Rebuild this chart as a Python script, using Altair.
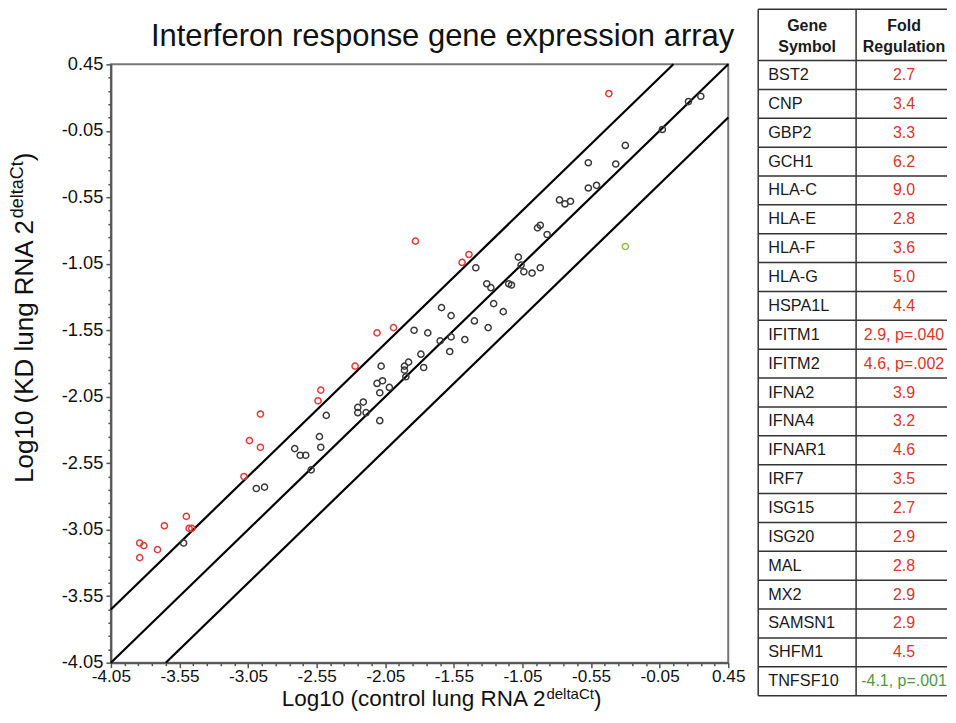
import altair as alt
import pandas as pd

# ---------------- text ----------------
title_text = "Interferon response gene expression array"
x_title_main = "Log10 (control lung RNA 2"
y_title_main = "Log10 (KD lung RNA 2"
sup_text = "deltaCt"
close_text = ")"

# ---------------- scatter values (log10 2^deltaCt) ----------------
# up-regulated genes (red)
ctrl_up = [-3.84, -3.81, -3.84, -3.71, -3.66, -3.50, -3.48, -3.46, -3.08, -3.04, -2.96,
           -2.96, -2.54, -2.52, -2.27, -2.11, -1.99, -1.83, -1.49, -1.44, -0.42]
kd_up = [-3.15, -3.17, -3.26, -3.20, -3.02, -2.95, -3.04, -3.04, -2.65, -2.38, -2.18,
         -2.43, -2.08, -2.00, -1.82, -1.57, -1.53, -0.88, -1.04, -0.98, 0.23]
# unchanged genes (black)
ctrl_ns = [-3.52, -2.99, -2.93, -2.71, -2.67, -2.63, -2.59, -2.53, -2.52, -2.48, -2.25,
           -2.21, -2.25, -2.19, -2.09, -2.11, -2.07, -2.09, -2.02, -2.08, -1.91, -1.90,
           -1.91, -1.88, -1.77, -1.79, -1.84, -1.74, -1.65, -1.57, -1.47, -1.58, -1.64,
           -1.57, -1.40, -1.30, -1.26, -1.19, -1.31, -1.28, -1.15, -1.13, -1.39, -1.08,
           -1.06, -1.04, -0.98, -0.92, -0.94, -0.92, -0.87, -0.78, -0.74, -0.70, -0.57,
           -0.51, -0.57, -0.37, -0.30, -0.03, 0.16, 0.25]
kd_ns = [-3.15, -2.74, -2.73, -2.44, -2.49, -2.49, -2.60, -2.35, -2.43, -2.19, -2.13,
         -2.09, -2.17, -2.17, -2.23, -1.95, -1.93, -2.02, -1.98, -1.82, -1.85, -1.90,
         -1.82, -1.79, -1.83, -1.73, -1.55, -1.57, -1.63, -1.60, -1.62, -1.71, -1.38,
         -1.44, -1.48, -1.53, -1.35, -1.41, -1.20, -1.23, -1.20, -1.21, -1.08, -1.00,
         -1.06, -1.11, -1.12, -1.08, -0.78, -0.76, -0.83, -0.57, -0.60, -0.58, -0.48,
         -0.46, -0.29, -0.30, -0.16, -0.04, 0.17, 0.21]
# down-regulated gene (green)
ctrl_down = [-0.30]
kd_down = [-0.92]

axis_lo = -4.05
axis_hi = 0.45
tick_values = [round(axis_lo + 0.1 * i, 2) for i in range(46)]
band_offsets = [0.4, 0.0, -0.4]  # identity line and +/- log10(2.5) boundaries

# ---------------- table ----------------
genes = ["BST2", "CNP", "GBP2", "GCH1", "HLA-C", "HLA-E", "HLA-F", "HLA-G", "HSPA1L",
         "IFITM1", "IFITM2", "IFNA2", "IFNA4", "IFNAR1", "IRF7", "ISG15", "ISG20", "MAL",
         "MX2", "SAMSN1", "SHFM1", "TNFSF10"]
folds = ["2.7", "3.4", "3.3", "6.2", "9.0", "2.8", "3.6", "5.0", "4.4", "2.9, p=.040",
         "4.6, p=.002", "3.9", "3.2", "4.6", "3.5", "2.7", "2.9", "2.8", "2.9", "2.9",
         "4.5", "-4.1, p=.001"]
header_col1 = ["Gene", "Symbol"]
header_col2 = ["Fold", "Regulation"]

FONT = "Liberation Sans"

# ---------------- scatter panel ----------------
pts = pd.DataFrame({
    "control": ctrl_up + ctrl_ns + ctrl_down,
    "kd": kd_up + kd_ns + kd_down,
    "group": ["up"] * len(ctrl_up) + ["ns"] * len(ctrl_ns) + ["down"] * len(ctrl_down),
})

line_rows = []
for d in band_offsets:
    if d >= 0:
        seg = [(axis_lo, axis_lo + d), (axis_hi - d, axis_hi)]
    else:
        seg = [(axis_lo - d, axis_lo), (axis_hi, axis_hi + d)]
    for k, (xv, yv) in enumerate(seg):
        line_rows.append({"control": xv, "kd": yv, "line": str(d), "order": k})
lines = pd.DataFrame(line_rows)

major = "abs((datum.value + 4.05) * 2 - round((datum.value + 4.05) * 2)) < 0.01"
label_expr = f"({major}) ? ((datum.value < 0 ? '-' : '') + format(abs(datum.value), '.2f')) : ''"
tick_size = {"condition": {"test": major, "value": 5}, "value": 3}

common_axis = dict(values=tick_values, labelExpr=label_expr, tickSize=tick_size, title=None,
                   grid=False, labelFlush=False, labelOverlap=False,
                   labelColor="#111111", labelFont=FONT, tickColor="#555555",
                   tickWidth=1.5, domainColor="#555555", domainWidth=2)

xs = alt.Scale(domain=[axis_lo, axis_hi], nice=False, zero=False)
ys = alt.Scale(domain=[axis_lo, axis_hi], nice=False, zero=False)

x_enc = alt.X("control:Q", scale=xs,
              axis=alt.Axis(labelPadding=0, labelFontSize=17.2, **common_axis))
y_enc = alt.Y("kd:Q", scale=ys,
              axis=alt.Axis(labelPadding=3, labelFontSize=18.3, **common_axis))

lines_layer = alt.Chart(lines).mark_line(color="black", strokeWidth=2.2).encode(
    x=x_enc, y=y_enc, detail="line:N", order="order:Q")

color_scale = alt.Scale(domain=["up", "ns", "down"], range=["#e03a36", "#3a3a3a", "#86c241"])
points_layer = alt.Chart(pts).mark_point(shape="circle", filled=False, size=38,
                                         strokeWidth=1.5, opacity=1).encode(
    x=x_enc, y=y_enc, color=alt.Color("group:N", scale=color_scale, legend=None))


def text_layer(txt, x, y, size, angle=0, align="left"):
    return alt.Chart(pd.DataFrame({"t": [txt]})).mark_text(
        font=FONT, fontSize=size, align=align, baseline="alphabetic", angle=angle,
        color="#111111").encode(text="t:N", x=alt.value(x), y=alt.value(y))


title_layer = text_layer(title_text, 332, -18, 31, align="center")
xt_a = text_layer(x_title_main, 435, 642.3, 22.5, align="right")
xt_b = text_layer(sup_text, 436, 635.3, 15, align="left")
xt_c = text_layer(close_text, 483.5, 642.3, 22.5, align="left")
yt_a = text_layer(y_title_main, -78, 419, 26, angle=270, align="left")
yt_b = text_layer(sup_text, -88, 154, 18, angle=270, align="left")
yt_c = text_layer(close_text, -78, 97, 26, angle=270, align="left")

left = alt.layer(lines_layer, points_layer, title_layer, xt_a, xt_b, xt_c, yt_a, yt_b, yt_c).properties(
    width=618, height=599,
    view=alt.ViewBackground(stroke="#777777", strokeWidth=2))

# ---------------- table panel ----------------
TOP = -55          # table top relative to plot top (px)
BOTTOM = 632       # table bottom relative to plot top (px)
ROW = 28.9         # body row height (px)
n = len(genes)
H = (BOTTOM - TOP) / ROW - n  # header height in row units
TW = 189
tx = alt.Scale(domain=[0, TW], range=[0, TW], nice=False, zero=False)
ty = alt.Scale(domain=[0, H + n], range=[TOP, BOTTOM], nice=False, zero=False)

hrules = pd.DataFrame({"y": [0.0] + [H + i for i in range(n + 1)], "x0": 0, "x1": TW})
vrules = pd.DataFrame({"x": [0, 98], "y0": 0.0, "y1": H + n})

hr = alt.Chart(hrules).mark_rule(color="#333333", strokeWidth=1.5).encode(
    x=alt.X("x0:Q", scale=tx, axis=None), x2="x1:Q", y=alt.Y("y:Q", scale=ty, axis=None))
vr = alt.Chart(vrules).mark_rule(color="#333333", strokeWidth=1.5).encode(
    x=alt.X("x:Q", scale=tx, axis=None), y=alt.Y("y0:Q", scale=ty, axis=None), y2="y1:Q")

body = pd.DataFrame({
    "gene": genes,
    "fold": folds,
    "row": [H + i + 0.5 for i in range(n)],
    "dir": ["down" if f.startswith("-") else "up" for f in folds],
})
gene_txt = alt.Chart(body).mark_text(font=FONT, fontSize=16.3, align="left", baseline="middle",
                                     color="#1a1a1a").encode(
    x=alt.value(10), y=alt.Y("row:Q", scale=ty, axis=None), text="gene:N")
fold_txt = alt.Chart(body).mark_text(font=FONT, fontSize=16, align="center",
                                     baseline="middle").encode(
    x=alt.value(146), y=alt.Y("row:Q", scale=ty, axis=None), text="fold:N",
    color=alt.Color("dir:N", scale=alt.Scale(domain=["up", "down"], range=["#d8352c", "#4f9a3e"]),
                    legend=None))

# header lines placed at the reference's text centres
head = pd.DataFrame({"c1": header_col1, "c2": header_col2,
                     "row": [(-38 - TOP) / ROW, (-17.5 - TOP) / ROW]})
h1 = alt.Chart(head).mark_text(font=FONT, fontSize=16, fontWeight="bold", align="center",
                               baseline="middle", color="#1a1a1a").encode(
    x=alt.value(49), y=alt.Y("row:Q", scale=ty, axis=None), text="c1:N")
h2 = alt.Chart(head).mark_text(font=FONT, fontSize=16, fontWeight="bold", align="center",
                               baseline="middle", color="#1a1a1a").encode(
    x=alt.value(146), y=alt.Y("row:Q", scale=ty, axis=None), text="c2:N")

table = alt.layer(hr, vr, gene_txt, fold_txt, h1, h2).properties(
    width=TW, height=599, view=alt.ViewBackground(stroke=None))

chart = alt.hconcat(left, table, spacing=30, bounds="flush", padding=0).resolve_scale(
    color="independent").configure(font=FONT)

chart.save("out.html", embed_options={"renderer": "svg", "actions": False})
